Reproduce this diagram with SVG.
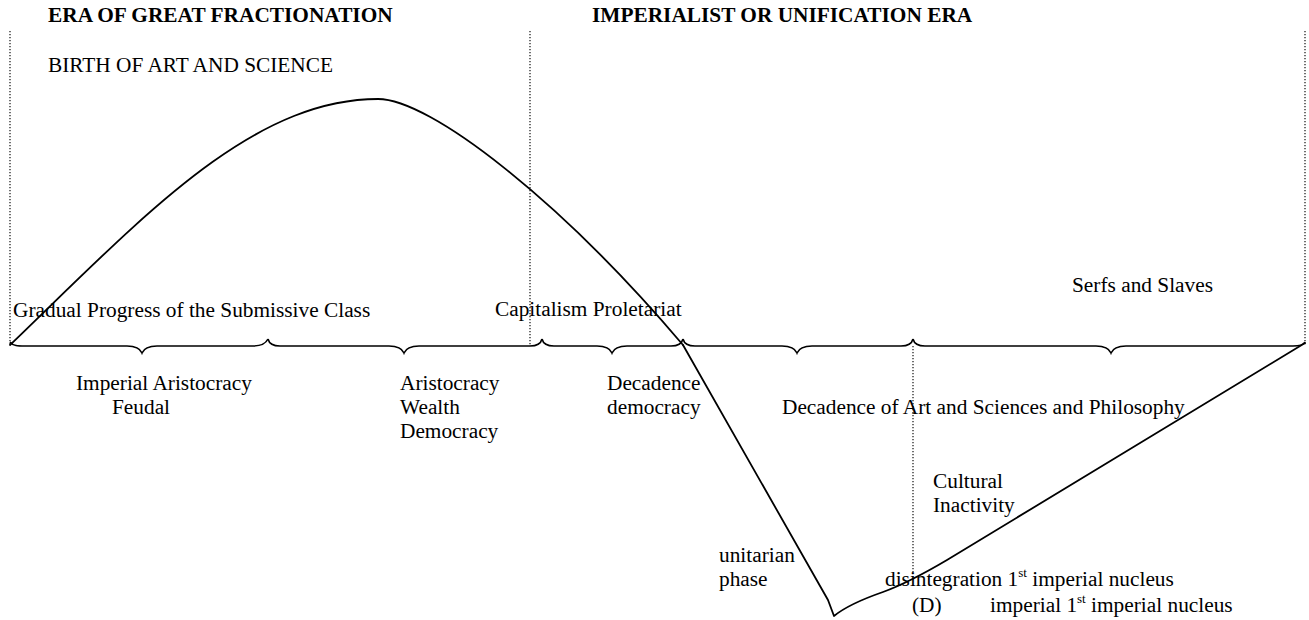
<svg xmlns="http://www.w3.org/2000/svg" width="1309" height="620" viewBox="0 0 1309 620">
<style>
text{font-family:"Liberation Serif","Times New Roman",serif;font-size:21.33px;fill:#000}
.b{font-weight:bold}
.sup{font-size:13px}
.dot{stroke:#222;stroke-width:1.3;stroke-dasharray:1.3 1.7;fill:none}
.ln{stroke:#000;stroke-width:1.8;fill:none;stroke-linejoin:round;stroke-linecap:round}
.br{stroke:#000;stroke-width:1.6;fill:none}
</style>
<rect width="1309" height="620" fill="#fff"/>
<g id="dividers">
<line class="dot" x1="10" y1="31" x2="10" y2="346"/>
<line class="dot" x1="530" y1="31" x2="530" y2="346"/>
<line class="dot" x1="1305" y1="31" x2="1305" y2="346"/>
<line class="dot" x1="913" y1="346" x2="913" y2="572"/>
</g>
<g id="braces">
<path class="br" d="M10,342 C13,346 18,346 25,346 L127,346 C135,346 140,348 142,353 C144,348 149,346 157,346 L253,346 C261,346 266,343 268,339"/>
<path class="br" d="M268,339 C269,343 272,346 280,346 L389,346 C397,346 402,348 404,353 C406,348 411,346 419,346 L530,346 C538,346 541,343 542,339"/>
<path class="br" d="M542,339 C543,343 546,346 554,346 L597,346 C605,346 610,348 612,353 C614,348 619,346 627,346 L671,346 C679,346 682,343 683,339"/>
<path class="br" d="M683,339 C684,343 687,346 695,346 L782,346 C790,346 795,348 797,353 C799,348 804,346 812,346 L901,346 C909,346 912,343 913,339"/>
<path class="br" d="M913,339 C914,343 917,346 925,346 L1096,346 C1104,346 1109,348 1111,353 C1113,348 1118,346 1126,346 L1293,346 C1301,346 1304,344 1305,342"/>
</g>
<g id="connectors">
<path id="arc" class="ln" d="M10,345 C140,220 250,99 378,99 C430,99 560,200 683,345"/>
<path id="descent" class="ln" d="M683,345 L828,600 Q831,608 834,616 C845,607 860,600 883,592 C905,584 925,573 947,560 L1305,343"/>
</g>
<g id="headings">
<text class="b" x="48" y="22">ERA OF GREAT FRACTIONATION</text>
<text class="b" x="592" y="22">IMPERIALIST OR UNIFICATION ERA</text>
<text x="48" y="72">BIRTH OF ART AND SCIENCE</text>
</g>
<g id="upper-labels">
<text x="13" y="317">Gradual Progress of the Submissive Class</text>
<text x="495" y="316">Capitalism Proletariat</text>
<text x="1072" y="292">Serfs and Slaves</text>
</g>
<g id="lower-labels">
<text x="76" y="390">Imperial Aristocracy</text>
<text x="112" y="414">Feudal</text>
<text x="400" y="390">Aristocracy</text>
<text x="400" y="414">Wealth</text>
<text x="400" y="438">Democracy</text>
<text x="607" y="390">Decadence</text>
<text x="607" y="414">democracy</text>
<text x="782" y="414">Decadence of Art and Sciences and Philosophy</text>
<text x="933" y="488">Cultural</text>
<text x="933" y="512">Inactivity</text>
<text x="719" y="562">unitarian</text>
<text x="719" y="586">phase</text>
<text x="885" y="586">disintegration 1<tspan class="sup" dy="-9">st</tspan><tspan dy="9"> imperial nucleus</tspan></text>
<text x="912" y="612">(D)</text>
<text x="990" y="612">imperial 1<tspan class="sup" dy="-9">st</tspan><tspan dy="9"> imperial nucleus</tspan></text>
</g>
</svg>
